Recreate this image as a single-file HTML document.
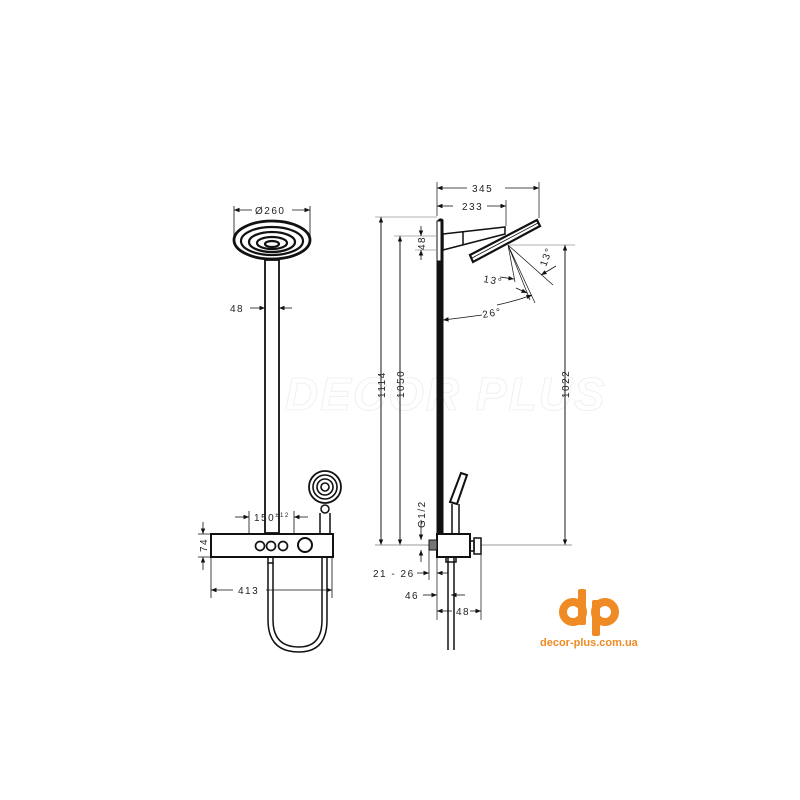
<!DOCTYPE html>
<html><head><meta charset="utf-8"><style>
html,body{margin:0;padding:0;background:#fff;}
svg{display:block}
text{font-family:"Liberation Sans",sans-serif;font-size:10px;fill:#222;letter-spacing:1.5px}
</style></head><body>
<svg width="800" height="800" viewBox="0 0 800 800" xmlns="http://www.w3.org/2000/svg">
<defs>
<marker id="a" viewBox="0 0 10 10" refX="10" refY="5" markerWidth="7" markerHeight="7" orient="auto-start-reverse"><path d="M0,1 L10,5 L0,9z" fill="#111"/></marker>
</defs>
<rect width="800" height="800" fill="#fff"/>
<text x="285" y="410" style="font-size:46px;fill:none;stroke:#f0f0f0;stroke-width:1;letter-spacing:2px;font-style:italic;font-weight:bold">DECOR PLUS</text>
<g stroke="#111" fill="none" stroke-width="1.5">
<!-- LEFT -->
<ellipse cx="272" cy="240" rx="38" ry="19" stroke-width="2.8"/>
<ellipse cx="272" cy="241" rx="31" ry="14" stroke-width="2.2"/>
<ellipse cx="272" cy="242" rx="23" ry="10" stroke-width="2.2"/>
<ellipse cx="272" cy="243" rx="15" ry="6" stroke-width="2.2"/>
<ellipse cx="272" cy="244" rx="7" ry="3" stroke-width="2.2"/>
<path d="M234,240 V206 M310,240 V206" stroke-width="0.8"/>
<line x1="252" y1="210" x2="234" y2="210" marker-end="url(#a)" stroke-width="0.8"/>
<line x1="292" y1="210" x2="310" y2="210" marker-end="url(#a)" stroke-width="0.8"/>
<rect x="265" y="260" width="14" height="273" stroke-width="1.8"/>
<line x1="250" y1="308" x2="265" y2="308" marker-end="url(#a)" stroke-width="0.8"/>
<line x1="292" y1="308" x2="279" y2="308" marker-end="url(#a)" stroke-width="0.8"/>
<rect x="211" y="534" width="122" height="23" stroke-width="2"/>
<circle cx="260" cy="546" r="4.5" stroke-width="1.7"/><circle cx="271" cy="546" r="4.5" stroke-width="1.7"/><circle cx="283" cy="546" r="4.5" stroke-width="1.7"/>
<circle cx="305" cy="545" r="7" stroke-width="2"/>
<path d="M249,511 V534 M294,511 V534" stroke-width="0.8"/>
<line x1="235" y1="517" x2="249" y2="517" marker-end="url(#a)" stroke-width="0.8"/>
<line x1="308" y1="517" x2="294" y2="517" marker-end="url(#a)" stroke-width="0.8"/>
<path d="M198,534 H211 M198,557 H211" stroke-width="0.8"/>
<line x1="203" y1="522" x2="203" y2="534" marker-end="url(#a)" stroke-width="0.8"/>
<line x1="203" y1="570" x2="203" y2="557" marker-end="url(#a)" stroke-width="0.8"/>
<path d="M211,557 V598 M332,557 V598" stroke-width="0.8"/>
<line x1="233" y1="590" x2="211" y2="590" marker-end="url(#a)" stroke-width="0.8"/>
<line x1="266" y1="590" x2="332" y2="590" marker-end="url(#a)" stroke-width="0.8"/>
<circle cx="325" cy="487" r="16" stroke-width="1.8"/>
<circle cx="325" cy="487" r="12" stroke-width="1.6"/>
<circle cx="325" cy="487" r="8" stroke-width="1.6"/>
<circle cx="325" cy="487" r="4" stroke-width="1.6"/>
<circle cx="325" cy="509" r="4"/>
<path d="M320,513 V534 M330,513 V534"/>
<rect x="268" y="557" width="5" height="6"/>
<path d="M268,563 V620 Q268,652 299,652 Q327,652 327,620 V557"/>
<path d="M273,563 V620 Q273,647 299,647 Q322,647 322,620 V557"/>
<!-- RIGHT -->
<path d="M437,222 Q440,217 443,220 V535 H437Z" fill="#111" stroke-width="1"/>
<rect x="437" y="221" width="4" height="40" fill="#fff" stroke-width="1"/>
<path d="M443,234 L505,227 L505,234 L443,250Z" stroke-width="1.5"/>
<line x1="463" y1="231" x2="463" y2="245"/>
<path d="M470,255 L537,220 L540,226 L473,262Z" stroke-width="2.2"/>
<line x1="472" y1="258" x2="538" y2="223" stroke-width="0.8"/>
<path d="M437,216 V182 M539,218 V182 M506,226 V200" stroke-width="0.7"/>
<line x1="467" y1="188" x2="437" y2="188" marker-end="url(#a)" stroke-width="0.8"/>
<line x1="505" y1="188" x2="539" y2="188" marker-end="url(#a)" stroke-width="0.8"/>
<line x1="453" y1="206" x2="437" y2="206" marker-end="url(#a)" stroke-width="0.8"/>
<line x1="487" y1="206" x2="506" y2="206" marker-end="url(#a)" stroke-width="0.8"/>
<path d="M375,217 H437 M394,236 H437 M415,250 H437 M509,245 H575" stroke="#999" stroke-width="0.8"/>
<line x1="381" y1="545" x2="381" y2="217" marker-end="url(#a)" stroke-width="0.8"/>
<line x1="381" y1="217" x2="381" y2="545" marker-end="url(#a)" stroke-width="0.8"/>
<line x1="400" y1="545" x2="400" y2="236" marker-end="url(#a)" stroke-width="0.8"/>
<line x1="400" y1="236" x2="400" y2="545" marker-end="url(#a)" stroke-width="0.8"/>
<line x1="565" y1="545" x2="565" y2="245" marker-end="url(#a)" stroke-width="0.8"/>
<line x1="565" y1="245" x2="565" y2="545" marker-end="url(#a)" stroke-width="0.8"/>
<line x1="421" y1="226" x2="421" y2="236" marker-end="url(#a)" stroke-width="0.8"/>
<line x1="421" y1="260" x2="421" y2="250" marker-end="url(#a)" stroke-width="0.8"/>
<path d="M375,545 H437 M481,545 H572" stroke="#999" stroke-width="1"/>
<path d="M508,245 L515,282 M508,245 L530,300 M508,245 L553,285 M508,245 L535,303" stroke-width="0.7"/>
<line x1="500" y1="277" x2="514" y2="279" marker-end="url(#a)" stroke-width="0.8"/>
<line x1="556" y1="266" x2="541" y2="275" marker-end="url(#a)" stroke-width="0.8"/>
<line x1="516" y1="288" x2="527" y2="293" marker-end="url(#a)" stroke-width="0.8"/>
<line x1="536" y1="270" x2="527" y2="289" stroke-width="0" />
<path d="M497,305 Q519,300 532,295" stroke-width="0.8" marker-end="url(#a)"/>
<path d="M482,315 Q460,318 443,320" stroke-width="0.8" marker-end="url(#a)"/>
<rect x="437" y="534" width="33" height="23" stroke-width="2" fill="#fff"/>
<rect x="429" y="540" width="8" height="10" fill="#777" stroke-width="1"/>
<rect x="470" y="541" width="4" height="10"/>
<rect x="474" y="538" width="7" height="16"/>
<path d="M452,534 V504 M459,534 V504"/>
<path d="M450,502 L461,473 L467,475 L457,504Z" stroke-width="2"/>
<path d="M448,557 V650 M454,557 V650"/>
<path d="M446,557 V562 H456 V557"/>
<line x1="421" y1="520" x2="421" y2="540" marker-end="url(#a)" stroke-width="0.8"/>
<line x1="421" y1="562" x2="421" y2="550" marker-end="url(#a)" stroke-width="0.8"/>
<path d="M429,550 V580 M437,557 V620 M481,554 V620" stroke-width="0.7"/>
<line x1="417" y1="573" x2="429" y2="573" marker-end="url(#a)" stroke-width="0.8"/>
<line x1="448" y1="573" x2="437" y2="573" marker-end="url(#a)" stroke-width="0.8"/>
<line x1="423" y1="595" x2="437" y2="595" marker-end="url(#a)" stroke-width="0.8"/>
<line x1="465" y1="595" x2="451" y2="595" marker-end="url(#a)" stroke-width="0.8"/>
<line x1="452" y1="611" x2="437" y2="611" marker-end="url(#a)" stroke-width="0.8"/>
<line x1="470" y1="611" x2="481" y2="611" marker-end="url(#a)" stroke-width="0.8"/>
</g>
<g>
<text x="255" y="214">Ø260</text>
<text x="230" y="312">48</text>
<text x="254" y="521">150<tspan style="font-size:6px" dy="-4">±12</tspan></text>
<text transform="translate(207,552) rotate(-90)">74</text>
<text x="238" y="594">413</text>
<text x="472" y="192">345</text>
<text x="462" y="210">233</text>
<text transform="translate(385,398) rotate(-90)">1114</text>
<text transform="translate(404,398) rotate(-90)">1050</text>
<text transform="translate(569,398) rotate(-90)">1022</text>
<text transform="translate(425,250) rotate(-90)">48</text>
<text transform="translate(425,528) rotate(-90)">G1/2</text>
<text transform="translate(483,282) rotate(10)">13°</text>
<text transform="translate(546,267) rotate(-70)">13°</text>
<text transform="translate(483,318) rotate(-10)">26°</text>
<text x="373" y="577">21 - 26</text>
<text x="405" y="599">46</text>
<text x="456" y="615">48</text>
</g>
<g fill="#f08a24">
<rect x="578" y="589" width="8" height="36" rx="2"/>
<circle cx="573" cy="612" r="10" fill="none" stroke="#f08a24" stroke-width="8"/>
<rect x="592" y="600" width="8" height="36" rx="2"/>
<circle cx="605" cy="612" r="10" fill="none" stroke="#f08a24" stroke-width="8"/>
</g>
<text x="540" y="646" style="fill:#f08a24;font-size:11px;font-weight:bold;letter-spacing:0">decor-plus.com.ua</text>
</svg>
</body></html>
